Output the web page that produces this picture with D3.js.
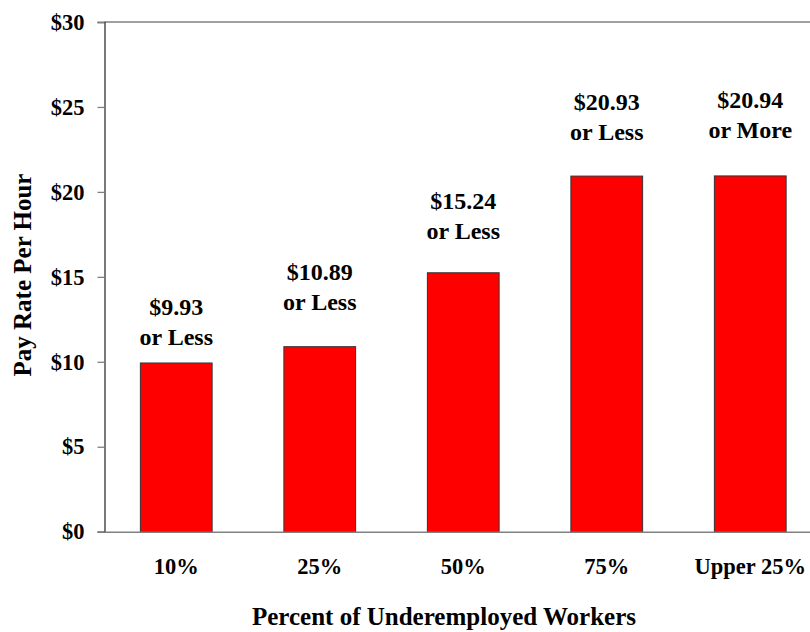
<!DOCTYPE html>
<html>
<head>
<meta charset="utf-8">
<script src="https://cdn.jsdelivr.net/npm/d3@7"></script>
<style>
  html, body { margin: 0; padding: 0; background: #fff; }
  svg { display: block; }
  text { font-family: "Liberation Serif", "Times New Roman", serif; font-weight: bold; fill: #000; }
</style>
</head>
<body>
<svg id="chart" width="810" height="632"></svg>
<script>
// ---- data ----
const categories = ["10%", "25%", "50%", "75%", "Upper 25%"];
const payRates = [9.93, 10.89, 15.24, 20.93, 20.94];
const labelLine1 = ["$9.93", "$10.89", "$15.24", "$20.93", "$20.94"];
const labelLine2 = ["or Less", "or Less", "or Less", "or Less", "or More"];
const labelLevels = [10.99, 13.05, 17.21, 23.05, 23.17]; // label baseline, in $ units
const yTicks = [0, 5, 10, 15, 20, 25, 30];
const yTickLabels = ["$0", "$5", "$10", "$15", "$20", "$25", "$30"];

// ---- layout ----
const svg = d3.select("#chart");
const mLeft = 104.5, mRight = 822, mTop = 22, mBottom = 531.7;

const x = d3.scaleBand().domain(categories).range([mLeft, mRight]).paddingInner(0.5).paddingOuter(0.25);
const y = d3.scaleLinear().domain([0, 30]).range([mBottom, mTop]);

// top border line
svg.append("line")
  .attr("x1", mLeft).attr("x2", mRight)
  .attr("y1", y(30)).attr("y2", y(30))
  .attr("stroke", "#808080").attr("stroke-width", 1.3);

// bars
svg.append("g").selectAll("rect")
  .data(payRates)
  .join("rect")
  .attr("x", (d, i) => x(categories[i]))
  .attr("y", d => y(d))
  .attr("width", x.bandwidth())
  .attr("height", d => y(0) - y(d))
  .attr("fill", "#ff0000")
  .attr("stroke", "#333")
  .attr("stroke-width", 1);

// y axis
const yAxis = d3.axisLeft(y)
  .tickValues(yTicks)
  .tickFormat((d, i) => yTickLabels[i])
  .tickSize(7)
  .tickPadding(13);
const gy = svg.append("g").attr("transform", `translate(${mLeft},0)`).call(yAxis);
gy.select(".domain").attr("stroke", "#333").attr("stroke-width", 1.3);
gy.selectAll(".tick line").attr("stroke", "#808080").attr("stroke-width", 1.3);
gy.selectAll(".tick text")
  .style("font-family", '"Liberation Serif", serif')
  .style("font-weight", "bold")
  .style("font-size", "22.5px")
  .attr("fill", "#000");

// x axis (baseline)
const xAxis = d3.axisBottom(x).tickSize(0).tickPadding(26);
const gx = svg.append("g").attr("transform", `translate(0,${mBottom})`).call(xAxis);
gx.select(".domain").attr("stroke", "#808080").attr("stroke-width", 1.6);
gx.selectAll(".tick text")
  .style("font-family", '"Liberation Serif", serif')
  .style("font-weight", "bold")
  .style("font-size", "22.5px")
  .attr("fill", "#000");

// value labels
const lg = svg.append("g");
payRates.forEach((d, i) => {
  const cx = x(categories[i]) + x.bandwidth() / 2;
  const t = lg.append("text")
    .attr("text-anchor", "middle")
    .style("font-size", "24px");
  t.append("tspan").attr("x", cx).attr("y", y(labelLevels[i]) - 30).text(labelLine1[i]);
  t.append("tspan").attr("x", cx).attr("y", y(labelLevels[i])).text(labelLine2[i]);
});

// axis titles
svg.append("text")
  .attr("x", 444).attr("y", 625)
  .attr("text-anchor", "middle")
  .style("font-size", "25px")
  .text("Percent of Underemployed Workers");

svg.append("text")
  .attr("transform", "translate(31,275) rotate(-90)")
  .attr("text-anchor", "middle")
  .style("font-size", "25px")
  .text("Pay Rate Per Hour");
</script>
</body>
</html>
